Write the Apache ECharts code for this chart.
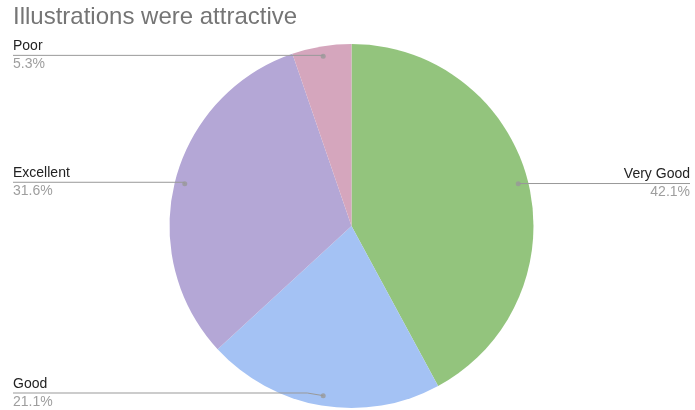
<!DOCTYPE html>
<html>
<head>
<meta charset="utf-8">
<script src="https://cdn.jsdelivr.net/npm/echarts@6/dist/echarts.min.js"></script>
<style>html,body{margin:0;padding:0;background:#fff}#c{width:695px;height:410px}</style>
</head>
<body>
<div id="c"></div>
<script>
var titleText = 'Illustrations were attractive';
var categories = ['Very Good', 'Good', 'Excellent', 'Poor'];
var counts = [8, 4, 6, 1];
var colors = ['#93c47d', '#a4c2f4', '#b4a7d6', '#d5a6bd'];

var total = counts.reduce(function (a, b) { return a + b; }, 0);
var pieData = categories.map(function (c, i) { return { name: c, value: counts[i] }; });
var dotData = [];
var cum = 0;
counts.forEach(function (v) { dotData.push([172, cum + v / 2]); cum += v; });

var FONT = '"Liberation Sans", Arial, sans-serif';
var chart = echarts.init(document.getElementById('c'));
chart.setOption({
  animation: false,
  title: {
    text: titleText, left: 8, top: 0,
    textStyle: { fontFamily: FONT, fontSize: 24, fontWeight: 'normal', color: '#757575' }
  },
  color: colors,
  polar: { center: [351.5, 226], radius: 182 },
  angleAxis: { type: 'value', min: 0, max: total, startAngle: 90, clockwise: true, show: false },
  radiusAxis: { type: 'value', min: 0, max: 182, show: false },
  series: [
    {
      type: 'pie',
      left: 8, right: 0, top: 0, bottom: 0,
      center: ['50%', 226],
      radius: 182,
      startAngle: 90,
      silent: true,
      label: { show: false },
      labelLine: { show: false },
      itemStyle: { borderWidth: 0 },
      data: pieData,
      z: 1
    },
    {
      type: 'pie',
      left: 8, right: 0, top: 0, bottom: 0,
      center: ['50%', 226],
      radius: 172,
      startAngle: 90,
      silent: true,
      itemStyle: { color: 'rgba(0,0,0,0)', borderWidth: 0 },
      label: {
        show: true,
        alignTo: 'edge',
        edgeDistance: 5,
        distanceToLabelLine: 0,
        formatter: function (p) {
          return '{n|' + p.name + '}\n{p|' + (p.value / total * 100).toFixed(1) + '%}';
        },
        rich: {
          n: { fontFamily: FONT, fontSize: 14, color: '#222222', lineHeight: 18 },
          p: { fontFamily: FONT, fontSize: 14, color: '#9e9e9e', lineHeight: 18 }
        }
      },
      labelLine: {
        show: true, length: 1, length2: 10,
        lineStyle: { color: '#999999', width: 1 }
      },
      labelLayout: function (params) {
        var pts = params.labelLinePoints;
        if (!pts) return {};
        var r = params.labelRect;
        var np = pts.map(function (q) { return [q[0], q[1]]; });
        var last = np[np.length - 1];
        if (last[0] < np[0][0]) { last[0] = r.x; } else { last[0] = r.x + r.width; }
        return { labelLinePoints: np };
      },
      data: pieData,
      z: 3
    },
    {
      type: 'scatter',
      coordinateSystem: 'polar',
      symbol: 'circle',
      symbolSize: 5,
      silent: true,
      itemStyle: { color: '#999999' },
      data: dotData,
      z: 4
    }
  ]
});
</script>
</body>
</html>
